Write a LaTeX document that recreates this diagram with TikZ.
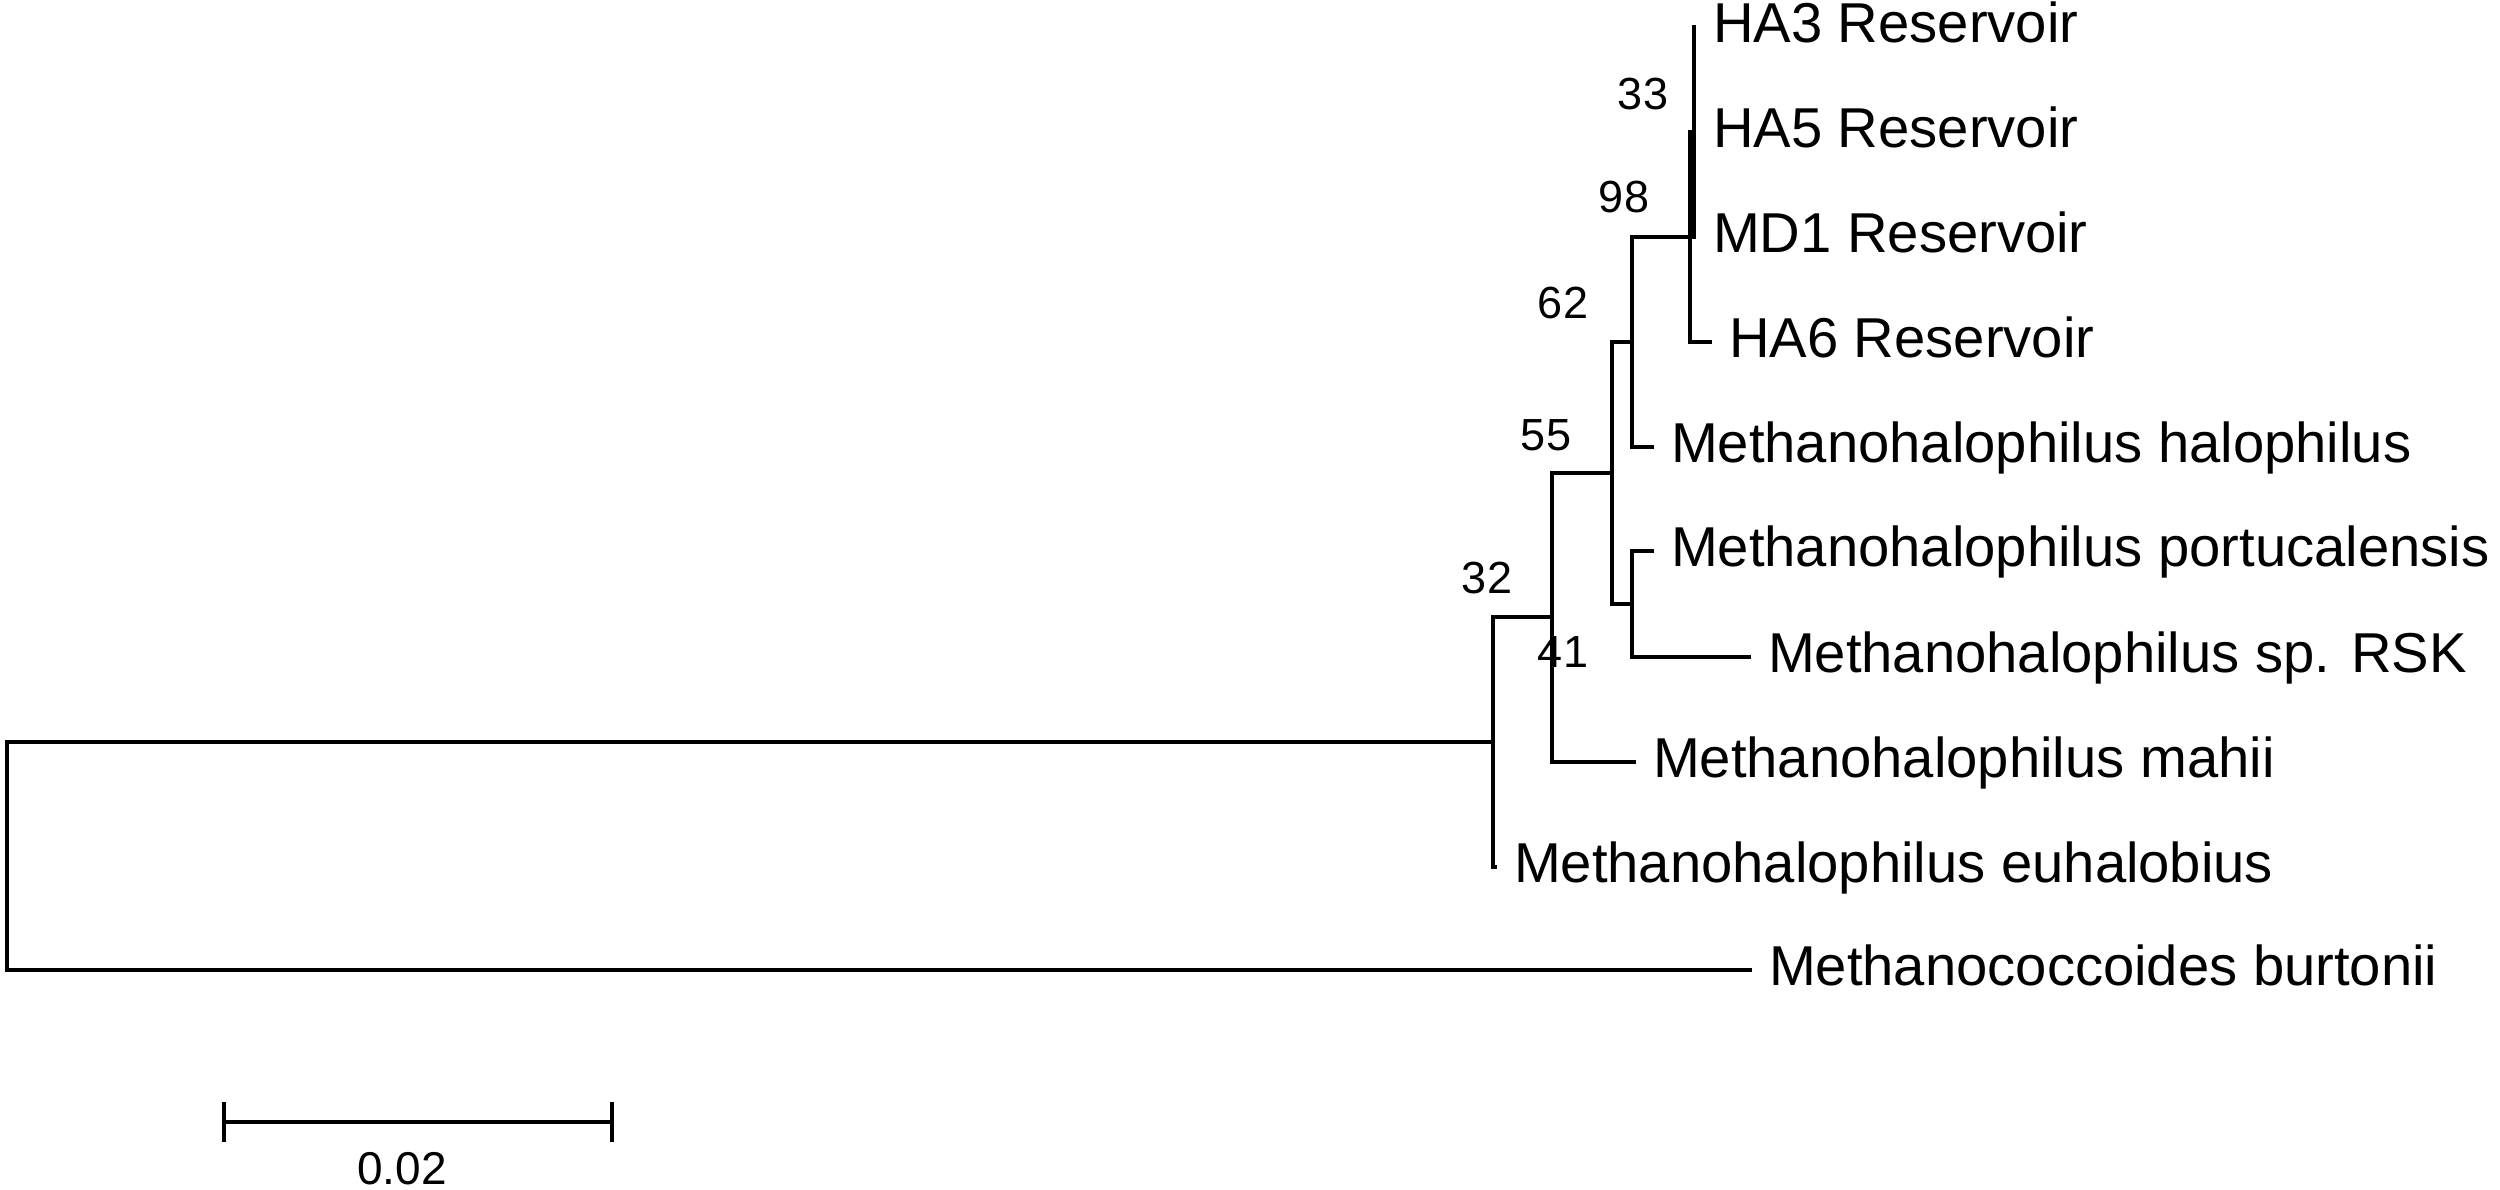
\documentclass[tikz,border=0pt]{standalone}
\usepackage{fontspec}
\setmainfont{Liberation Sans}
\begin{document}
\begin{tikzpicture}[x=1pt,y=-1pt,
  branch/.style={line width=4.5pt, line join=miter},
  leaf/.style={inner xsep=17pt, inner ysep=0pt, outer sep=0pt, anchor=west,
    font=\fontsize{56.2}{60}\selectfont, text height=40pt, text depth=8.3pt},
  boot/.style={inner sep=0pt, outer sep=0pt, font=\fontsize{45}{50}\selectfont,
    text height=32pt, text depth=0pt}]
\useasboundingbox (0,0) rectangle (2500,1190);

% internal nodes
\coordinate (root) at (7,856);
\coordinate (n32) at (1493,742);
\coordinate (n41) at (1552,617);
\coordinate (n55) at (1612,473);
\coordinate (n62) at (1632,342);
\coordinate (npr) at (1632,604);
\coordinate (n98) at (1690,237);
\coordinate (n33) at (1694,132);

% leaves
\node[leaf] (ha3) at (1696,27) {HA3 Reservoir};
\node[leaf] (ha5) at (1696,132) {HA5 Reservoir};
\node[leaf] (md1) at (1696,237) {MD1 Reservoir};
\node[leaf] (ha6) at (1712,342) {HA6 Reservoir};
\node[leaf] (hal) at (1654,447) {Methanohalophilus halophilus};
\node[leaf] (por) at (1654,551) {Methanohalophilus portucalensis};
\node[leaf] (rsk) at (1751,657) {Methanohalophilus sp. RSK};
\node[leaf] (mah) at (1636,762) {Methanohalophilus mahii};
\node[leaf] (euh) at (1497,867) {Methanohalophilus euhalobius};
\node[leaf] (bur) at (1752,970) {Methanococcoides burtonii};

% branches
\draw[branch] (root) |- (n32);
\draw[branch] (root) |- (bur.west);
\draw[branch] (n32) |- (n41);
\draw[branch] (n32) |- (euh.west);
\draw[branch] (n41) |- (n55);
\draw[branch] (n41) |- (mah.west);
\draw[branch] (n55) |- (n62);
\draw[branch] (n55) |- (npr);
\draw[branch] (npr) |- (por.west);
\draw[branch] (npr) |- (rsk.west);
\draw[branch] (n62) |- (n98);
\draw[branch] (n62) |- (hal.west);
\draw[branch] (n98) |- (n33);
\draw[branch] (n98) |- (ha6.west);
\draw[branch] (n33) |- (ha3.west);
\draw[branch] (n33) |- (ha5.west);
\draw[branch] (n33) |- (md1.west);

% bootstrap values
\node[boot] (b33) at (1643,94) {33};
\node[boot] (b98) at (1624,197) {98};
\node[boot] (b62) at (1563,303) {62};
\node[boot] (b55) at (1546,434) {55};
\node[boot] (b32) at (1487,577) {32};
\node[boot] (b41) at (1563,651) {41};

% scale bar
\coordinate (sbl) at (224,1122);
\coordinate (sbr) at (612,1122);
\draw[branch] (sbl) -- (sbr);
\draw[branch] (224,1102) -- (224,1142);
\draw[branch] (612,1102) -- (612,1142);
\node[boot, font=\fontsize{46}{50}\selectfont] (sblab) at (402,1168) {0.02};
\end{tikzpicture}
\end{document}
